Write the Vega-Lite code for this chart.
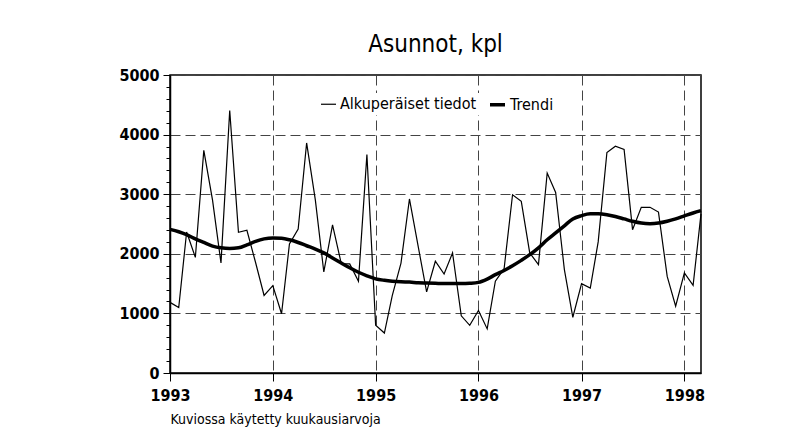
{
  "$schema": "https://vega.github.io/schema/vega-lite/v6.json",
  "width": 531,
  "height": 298,
  "autosize": {"type": "none"},
  "padding": {"left": 170, "top": 75, "right": 110, "bottom": 66},
  "background": "white",
  "title": {"text": "Asunnot, kpl", "font": "DejaVu Sans Condensed, Liberation Sans, sans-serif", "fontSize": 24, "fontWeight": "normal", "color": "black", "anchor": "middle", "offset": 10},
  "config": {
    "view": {"stroke": "black", "strokeWidth": 1.5},
    "font": "DejaVu Sans Condensed, Liberation Sans, sans-serif"
  },
  "data": {"values": [
    {"date": "1993-01-01", "series": "Alkuperäiset tiedot", "value": 1185},
    {"date": "1993-02-01", "series": "Alkuperäiset tiedot", "value": 1100},
    {"date": "1993-03-01", "series": "Alkuperäiset tiedot", "value": 2365},
    {"date": "1993-04-01", "series": "Alkuperäiset tiedot", "value": 1940},
    {"date": "1993-05-01", "series": "Alkuperäiset tiedot", "value": 3735},
    {"date": "1993-06-01", "series": "Alkuperäiset tiedot", "value": 2900},
    {"date": "1993-07-01", "series": "Alkuperäiset tiedot", "value": 1845},
    {"date": "1993-08-01", "series": "Alkuperäiset tiedot", "value": 4405},
    {"date": "1993-09-01", "series": "Alkuperäiset tiedot", "value": 2360},
    {"date": "1993-10-01", "series": "Alkuperäiset tiedot", "value": 2395},
    {"date": "1993-11-01", "series": "Alkuperäiset tiedot", "value": 1850},
    {"date": "1993-12-01", "series": "Alkuperäiset tiedot", "value": 1300},
    {"date": "1994-01-01", "series": "Alkuperäiset tiedot", "value": 1465},
    {"date": "1994-02-01", "series": "Alkuperäiset tiedot", "value": 995},
    {"date": "1994-03-01", "series": "Alkuperäiset tiedot", "value": 2165},
    {"date": "1994-04-01", "series": "Alkuperäiset tiedot", "value": 2415},
    {"date": "1994-05-01", "series": "Alkuperäiset tiedot", "value": 3860},
    {"date": "1994-06-01", "series": "Alkuperäiset tiedot", "value": 2900},
    {"date": "1994-07-01", "series": "Alkuperäiset tiedot", "value": 1695},
    {"date": "1994-08-01", "series": "Alkuperäiset tiedot", "value": 2485},
    {"date": "1994-09-01", "series": "Alkuperäiset tiedot", "value": 1835},
    {"date": "1994-10-01", "series": "Alkuperäiset tiedot", "value": 1830},
    {"date": "1994-11-01", "series": "Alkuperäiset tiedot", "value": 1540},
    {"date": "1994-12-01", "series": "Alkuperäiset tiedot", "value": 3665},
    {"date": "1995-01-01", "series": "Alkuperäiset tiedot", "value": 800},
    {"date": "1995-02-01", "series": "Alkuperäiset tiedot", "value": 670},
    {"date": "1995-03-01", "series": "Alkuperäiset tiedot", "value": 1300},
    {"date": "1995-04-01", "series": "Alkuperäiset tiedot", "value": 1845},
    {"date": "1995-05-01", "series": "Alkuperäiset tiedot", "value": 2920},
    {"date": "1995-06-01", "series": "Alkuperäiset tiedot", "value": 2125},
    {"date": "1995-07-01", "series": "Alkuperäiset tiedot", "value": 1360},
    {"date": "1995-08-01", "series": "Alkuperäiset tiedot", "value": 1875},
    {"date": "1995-09-01", "series": "Alkuperäiset tiedot", "value": 1660},
    {"date": "1995-10-01", "series": "Alkuperäiset tiedot", "value": 2015},
    {"date": "1995-11-01", "series": "Alkuperäiset tiedot", "value": 960},
    {"date": "1995-12-01", "series": "Alkuperäiset tiedot", "value": 800},
    {"date": "1996-01-01", "series": "Alkuperäiset tiedot", "value": 1050},
    {"date": "1996-02-01", "series": "Alkuperäiset tiedot", "value": 740},
    {"date": "1996-03-01", "series": "Alkuperäiset tiedot", "value": 1540},
    {"date": "1996-04-01", "series": "Alkuperäiset tiedot", "value": 1750},
    {"date": "1996-05-01", "series": "Alkuperäiset tiedot", "value": 2990},
    {"date": "1996-06-01", "series": "Alkuperäiset tiedot", "value": 2880},
    {"date": "1996-07-01", "series": "Alkuperäiset tiedot", "value": 2015},
    {"date": "1996-08-01", "series": "Alkuperäiset tiedot", "value": 1820},
    {"date": "1996-09-01", "series": "Alkuperäiset tiedot", "value": 3355},
    {"date": "1996-10-01", "series": "Alkuperäiset tiedot", "value": 3030},
    {"date": "1996-11-01", "series": "Alkuperäiset tiedot", "value": 1735},
    {"date": "1996-12-01", "series": "Alkuperäiset tiedot", "value": 935},
    {"date": "1997-01-01", "series": "Alkuperäiset tiedot", "value": 1500},
    {"date": "1997-02-01", "series": "Alkuperäiset tiedot", "value": 1425},
    {"date": "1997-03-01", "series": "Alkuperäiset tiedot", "value": 2200},
    {"date": "1997-04-01", "series": "Alkuperäiset tiedot", "value": 3700},
    {"date": "1997-05-01", "series": "Alkuperäiset tiedot", "value": 3805},
    {"date": "1997-06-01", "series": "Alkuperäiset tiedot", "value": 3750},
    {"date": "1997-07-01", "series": "Alkuperäiset tiedot", "value": 2405},
    {"date": "1997-08-01", "series": "Alkuperäiset tiedot", "value": 2780},
    {"date": "1997-09-01", "series": "Alkuperäiset tiedot", "value": 2780},
    {"date": "1997-10-01", "series": "Alkuperäiset tiedot", "value": 2700},
    {"date": "1997-11-01", "series": "Alkuperäiset tiedot", "value": 1620},
    {"date": "1997-12-01", "series": "Alkuperäiset tiedot", "value": 1120},
    {"date": "1998-01-01", "series": "Alkuperäiset tiedot", "value": 1680},
    {"date": "1998-02-01", "series": "Alkuperäiset tiedot", "value": 1470},
    {"date": "1998-03-01", "series": "Alkuperäiset tiedot", "value": 2670},
    {"date": "1993-01-01", "series": "Trendi", "value": 2410},
    {"date": "1993-02-01", "series": "Trendi", "value": 2370},
    {"date": "1993-03-01", "series": "Trendi", "value": 2320},
    {"date": "1993-04-01", "series": "Trendi", "value": 2250},
    {"date": "1993-05-01", "series": "Trendi", "value": 2190},
    {"date": "1993-06-01", "series": "Trendi", "value": 2130},
    {"date": "1993-07-01", "series": "Trendi", "value": 2100},
    {"date": "1993-08-01", "series": "Trendi", "value": 2090},
    {"date": "1993-09-01", "series": "Trendi", "value": 2100},
    {"date": "1993-10-01", "series": "Trendi", "value": 2150},
    {"date": "1993-11-01", "series": "Trendi", "value": 2210},
    {"date": "1993-12-01", "series": "Trendi", "value": 2250},
    {"date": "1994-01-01", "series": "Trendi", "value": 2265},
    {"date": "1994-02-01", "series": "Trendi", "value": 2260},
    {"date": "1994-03-01", "series": "Trendi", "value": 2235},
    {"date": "1994-04-01", "series": "Trendi", "value": 2190},
    {"date": "1994-05-01", "series": "Trendi", "value": 2135},
    {"date": "1994-06-01", "series": "Trendi", "value": 2080},
    {"date": "1994-07-01", "series": "Trendi", "value": 2015},
    {"date": "1994-08-01", "series": "Trendi", "value": 1930},
    {"date": "1994-09-01", "series": "Trendi", "value": 1845},
    {"date": "1994-10-01", "series": "Trendi", "value": 1765},
    {"date": "1994-11-01", "series": "Trendi", "value": 1690},
    {"date": "1994-12-01", "series": "Trendi", "value": 1630},
    {"date": "1995-01-01", "series": "Trendi", "value": 1580},
    {"date": "1995-02-01", "series": "Trendi", "value": 1555},
    {"date": "1995-03-01", "series": "Trendi", "value": 1540},
    {"date": "1995-04-01", "series": "Trendi", "value": 1530},
    {"date": "1995-05-01", "series": "Trendi", "value": 1525},
    {"date": "1995-06-01", "series": "Trendi", "value": 1515},
    {"date": "1995-07-01", "series": "Trendi", "value": 1510},
    {"date": "1995-08-01", "series": "Trendi", "value": 1505},
    {"date": "1995-09-01", "series": "Trendi", "value": 1500},
    {"date": "1995-10-01", "series": "Trendi", "value": 1500},
    {"date": "1995-11-01", "series": "Trendi", "value": 1500},
    {"date": "1995-12-01", "series": "Trendi", "value": 1505},
    {"date": "1996-01-01", "series": "Trendi", "value": 1520},
    {"date": "1996-02-01", "series": "Trendi", "value": 1575},
    {"date": "1996-03-01", "series": "Trendi", "value": 1650},
    {"date": "1996-04-01", "series": "Trendi", "value": 1720},
    {"date": "1996-05-01", "series": "Trendi", "value": 1800},
    {"date": "1996-06-01", "series": "Trendi", "value": 1890},
    {"date": "1996-07-01", "series": "Trendi", "value": 1985},
    {"date": "1996-08-01", "series": "Trendi", "value": 2100},
    {"date": "1996-09-01", "series": "Trendi", "value": 2235},
    {"date": "1996-10-01", "series": "Trendi", "value": 2350},
    {"date": "1996-11-01", "series": "Trendi", "value": 2470},
    {"date": "1996-12-01", "series": "Trendi", "value": 2585},
    {"date": "1997-01-01", "series": "Trendi", "value": 2640},
    {"date": "1997-02-01", "series": "Trendi", "value": 2670},
    {"date": "1997-03-01", "series": "Trendi", "value": 2670},
    {"date": "1997-04-01", "series": "Trendi", "value": 2655},
    {"date": "1997-05-01", "series": "Trendi", "value": 2625},
    {"date": "1997-06-01", "series": "Trendi", "value": 2585},
    {"date": "1997-07-01", "series": "Trendi", "value": 2545},
    {"date": "1997-08-01", "series": "Trendi", "value": 2515},
    {"date": "1997-09-01", "series": "Trendi", "value": 2505},
    {"date": "1997-10-01", "series": "Trendi", "value": 2515},
    {"date": "1997-11-01", "series": "Trendi", "value": 2545},
    {"date": "1997-12-01", "series": "Trendi", "value": 2585},
    {"date": "1998-01-01", "series": "Trendi", "value": 2635},
    {"date": "1998-02-01", "series": "Trendi", "value": 2685},
    {"date": "1998-03-01", "series": "Trendi", "value": 2725}
  ]},
  "resolve": {"axis": {"y": "independent", "x": "independent"}},
  "layer": [
    {
      "transform": [{"filter": "datum.series === 'Alkuperäiset tiedot'"}],
      "mark": {"type": "line", "color": "black", "strokeJoin": "miter"},
      "encoding": {
        "x": {"field": "date", "type": "temporal",
          "scale": {"type": "utc", "domain": [{"year": 1993, "month": 1, "date": 1, "utc": true}, {"year": 1998, "month": 3, "date": 1, "utc": true}]},
          "axis": {"values": [{"year": 1993, "utc": true}, {"year": 1994, "utc": true}, {"year": 1995, "utc": true}, {"year": 1996, "utc": true}, {"year": 1997, "utc": true}, {"year": 1998, "utc": true}],
            "format": "%Y", "title": "Kuviossa käytetty kuukausiarvoja", "titleAnchor": "start", "titleAlign": "left", "titleFontSize": 14, "titleFontWeight": "normal", "titleColor": "black", "titlePadding": 9,
            "grid": true, "gridDash": [10, 5], "gridColor": "#444", "gridWidth": 1,
            "tickSize": 8, "tickColor": "black", "domainColor": "black", "domainWidth": 1.5,
            "labelFontSize": 16, "labelFontWeight": "bold", "labelColor": "black", "labelPadding": 6, "labelFlush": false}},
        "y": {"field": "value", "type": "quantitative",
          "scale": {"domain": [0, 5000], "nice": false},
          "axis": {"values": [0, 1000, 2000, 3000, 4000, 5000], "format": "d", "title": null,
            "grid": true, "gridDash": [10, 5], "gridColor": "#444", "gridWidth": 1,
            "tickSize": 7, "tickColor": "black", "domainColor": "black", "domainWidth": 1.5,
            "labelFontSize": 16, "labelFontWeight": "bold", "labelColor": "black", "labelPadding": 4}},
        "strokeWidth": {"field": "series", "type": "nominal",
          "scale": {"domain": ["Alkuperäiset tiedot", "Trendi"], "range": [1.2, 3.5]},
          "legend": {"orient": "none", "legendX": 148, "legendY": 18, "direction": "horizontal", "title": null,
            "symbolType": "stroke", "symbolSize": 225, "symbolStrokeColor": "black", "labelOffset": 3,
            "labelFontSize": 16, "labelColor": "black", "columnPadding": 6,
            "fillColor": "white", "padding": 2}}
      }
    },
    {
      "transform": [{"filter": "datum.series === 'Trendi'"}],
      "mark": {"type": "line", "color": "black", "interpolate": "monotone"},
      "encoding": {
        "x": {"field": "date", "type": "temporal", "axis": null},
        "y": {"field": "value", "type": "quantitative",
          "axis": {"values": [200, 400, 600, 800, 1200, 1400, 1600, 1800, 2200, 2400, 2600, 2800, 3200, 3400, 3600, 3800, 4200, 4400, 4600, 4800],
            "orient": "left", "title": null, "labels": false, "grid": false, "domain": false, "tickSize": 4, "tickColor": "black", "tickWidth": 1}},
        "strokeWidth": {"field": "series", "type": "nominal"}
      }
    }
  ]
}
